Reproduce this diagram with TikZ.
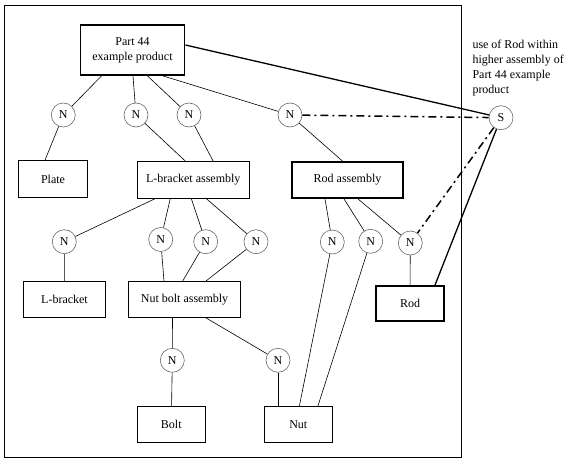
\documentclass[tikz,border=0pt]{standalone}
\usepackage{fontspec}
\setmainfont{Liberation Serif}

\begin{document}
\begin{tikzpicture}[x=1pt , y=-1pt ,
  font=\fontsize{12}{15}\selectfont ,
  box/.style={draw , line width=0.6pt , inner sep=0pt} ,
  thickbox/.style={draw , line width=1.8pt , inner sep=0pt} ,
  use/.style={draw = black!60 , circle , line width=0.6pt , minimum size=24pt , inner sep=0pt} ,
  link/.style={line width=0.6pt} ,
  strong/.style={line width=1.3pt} ,
  dashdot/.style={line width=1.5pt , dash pattern=on 8pt off 4pt on 2pt off 4pt}]

\useasboundingbox (0,0) rectangle (571,463) ;
\draw[line width=0.9pt] (4.5,5) rectangle (461.5,457) ;

\node[thickbox , minimum width=104pt , minimum height=50pt , align=center] (part44) at (132.5,50){Part 44\\example product} ;
\node[box , minimum width=69pt , minimum height=37pt] (plate) at (53,179){Plate} ;
\node[box , minimum width=112pt , minimum height=36.6pt] (lbasm) at (193.3,180){L-bracket assembly} ;
\node[thickbox , minimum width=111.6pt , minimum height=36pt] (rodasm) at (347.5,180){Rod assembly} ;
\node[box , minimum width=82.4pt , minimum height=35.6pt] (lbracket) at (64.5,299.5){L-bracket} ;
\node[box , minimum width=112.4pt , minimum height=35.6pt] (nbasm) at (184.5,299.5){Nut bolt assembly} ;
\node[thickbox , minimum width=68.3pt , minimum height=34.7pt] (rod) at (410,303.3){Rod} ;
\node[box , minimum width=68pt , minimum height=35.6pt] (bolt) at (171.3,424.5){Bolt} ;
\node[box , minimum width=68pt , minimum height=35.6pt] (nut) at (298.3,424.5){Nut} ;

% usage nodes
\node[use] (nplate) at (63.3,115){N} ;
\node[use] (nlb1) at (136,115){N} ;
\node[use] (nlb2) at (189,115){N} ;
\node[use] (nrodasm) at (290,115){N} ;
\node[use] (nlbracket) at (64.3,241.7){N} ;
\node[use] (nnb1) at (160.7,239.5){N} ;
\node[use] (nnb2) at (205.7,241.7){N} ;
\node[use] (nnb3) at (256,241.7){N} ;
\node[use] (nnut1) at (332.3,242){N} ;
\node[use] (nnut2) at (370.7,241.3){N} ;
\node[use] (nrod) at (410.3,243){N} ;
\node[use] (nbolt) at (172.3,360.3){N} ;
\node[use] (nnut3) at (278,360.3){N} ;
\node[use] (s) at (501,117.7){S} ;
\node[anchor=north west , align=left , inner sep=0pt] (note) at (472.3,40){use of Rod within\\higher assembly of\\Part 44 example\\product} ;

\draw[link] ([xshift=-31pt]part44.south) -- (nplate) ;
\draw[link] ([xshift=0.5pt]part44.south) -- (nlb1) ;
\draw[link] ([xshift=15pt]part44.south) -- (nlb2) ;
\draw[link] ([xshift=30.5pt]part44.south) -- (nrodasm) ;
\draw[link] (nplate) -- ([xshift=-8pt]plate.north) ;
\draw[link] (nlb1) -- ([xshift=-7.6pt]lbasm.north) ;
\draw[link] (nlb2) -- ([xshift=20pt]lbasm.north) ;
\draw[link] (nrodasm) -- ([xshift=-5pt]rodasm.north) ;

\draw[link] ([xshift=-38pt]lbasm.south) -- (nlbracket) ;
\draw[link] ([xshift=-23pt]lbasm.south) -- (nnb1) ;
\draw[link] ([xshift=-2pt]lbasm.south) -- (nnb2) ;
\draw[link] ([xshift=13pt]lbasm.south) -- (nnb3) ;
\draw[link] ([xshift=-22.5pt]rodasm.south) -- (nnut1) ;
\draw[link] ([xshift=-3.5pt]rodasm.south) -- (nnut2) ;
\draw[link] ([xshift=10.5pt]rodasm.south) -- (nrod) ;

\draw[link] (nlbracket) -- (lbracket) ;
\draw[link] (nnb1) -- ([xshift=-20.5pt]nbasm.north) ;
\draw[link] (nnb2) -- ([xshift=-2pt]nbasm.north) ;
\draw[link] (nnb3) -- ([xshift=21pt]nbasm.north) ;
\draw[link] (nnut1) -- ([xshift=1pt]nut.north) ;
\draw[link] (nnut2) -- ([xshift=19.5pt]nut.north) ;
\draw[link] (nrod) -- (rod) ;

\draw[link] ([xshift=-12pt]nbasm.south) -- (nbolt) ;
\draw[link] ([xshift=21pt]nbasm.south) -- (nnut3) ;
\draw[link] (nbolt) -- (bolt) ;
\draw[link] (nnut3) -- ([xshift=-20.3pt]nut.north) ;

% higher assembly use
\draw[strong] ([yshift=5pt]part44.east) -- (s) ;
\draw[strong] (s) -- ([xshift=25pt]rod.north) ;
\draw[dashdot] (nrodasm) -- (s) ;
\draw[dashdot] (s) -- (nrod) ;

\end{tikzpicture}
\end{document}
